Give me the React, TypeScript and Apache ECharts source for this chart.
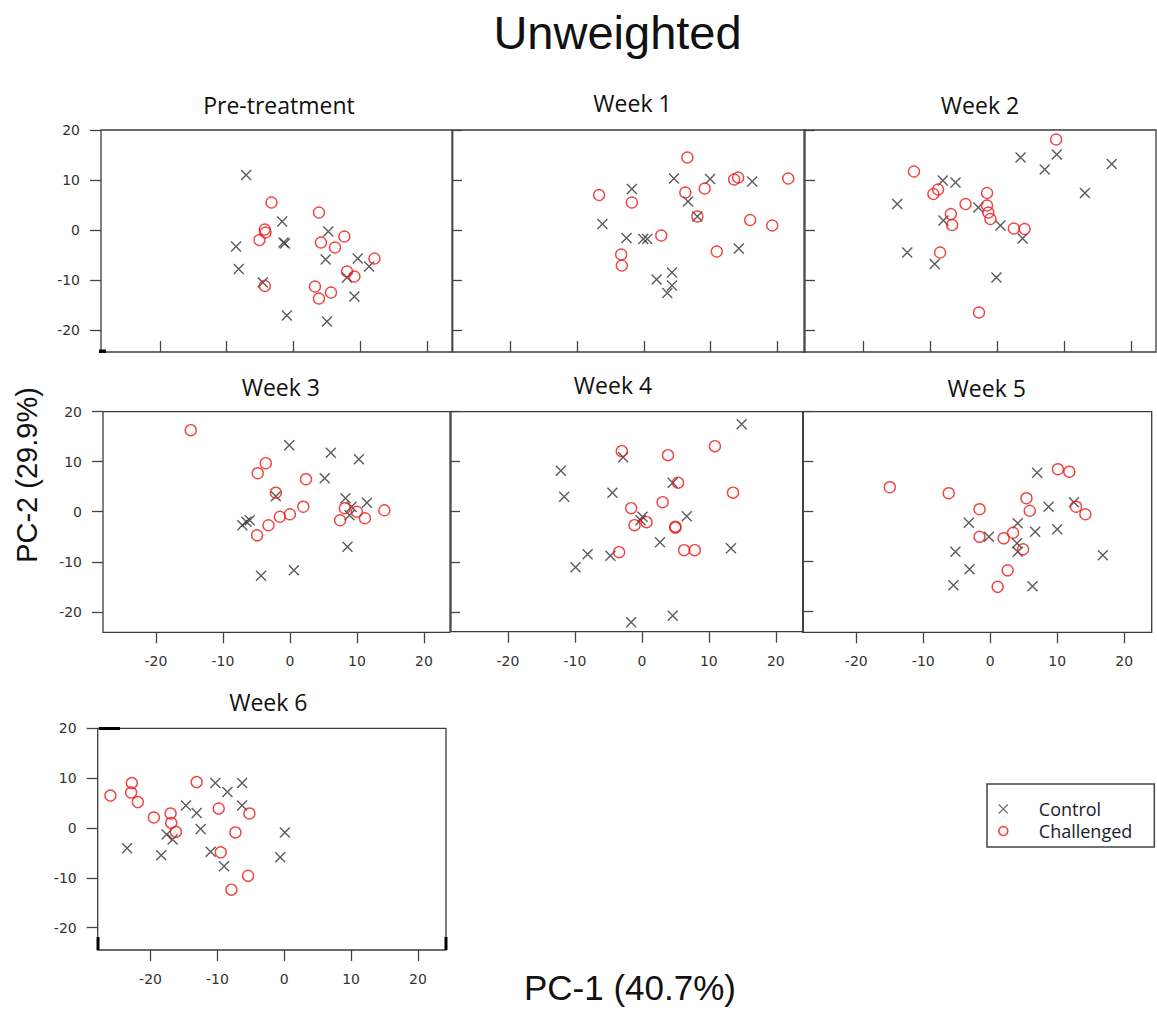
import React, { useEffect, useRef } from 'react';
import * as echarts from 'echarts';

// ---------- data ----------
const mainTitle = 'Unweighted';
const xAxisTitle = 'PC-1 (40.7%)';
const yAxisTitle = 'PC-2 (29.9%)';
const panelTitles = ['Pre-treatment', 'Week 1', 'Week 2', 'Week 3', 'Week 4', 'Week 5', 'Week 6'];
const tickValues = [-20, -10, 0, 10, 20];
const legendLabels = ['Control', 'Challenged'];

const controlPre = [
  [-7.1, 11.0], [-1.7, 1.7], [-1.3, -2.7], [-1.5, -2.5], [-8.6, -3.3], [-8.2, -7.8], [-4.6, -10.5],
  [-1.0, -17.1], [5.2, -0.3], [4.8, -5.9], [9.6, -5.7], [11.3, -7.3], [8.0, -9.5], [9.1, -13.3], [5.0, -18.3],
];
const challengedPre = [
  [-3.3, 5.5], [-4.3, 0.1], [-4.2, -0.5], [-5.1, -2.0], [-4.3, -11.2], [3.8, 3.5], [4.1, -2.5],
  [6.2, -3.5], [7.6, -1.3], [12.1, -5.7], [8.0, -8.3], [9.1, -9.3], [3.2, -11.3], [3.8, -13.7], [5.6, -12.5],
];
const controlW1 = [
  [-1.8, 8.2], [-6.2, 1.2], [-2.6, -1.6], [-0.1, -1.8], [0.5, -1.8], [4.5, 10.3], [9.9, 10.2], [16.2, 9.7],
  [6.6, 5.7], [8.0, 2.7], [14.2, -3.7], [1.9, -9.9], [4.2, -8.5], [4.2, -11.1], [3.5, -12.6],
];
const challengedW1 = [
  [-6.7, 7.0], [-1.8, 5.5], [-3.4, -4.9], [-3.3, -7.1], [2.6, -1.1], [6.5, 14.5], [6.2, 7.5], [9.1, 8.3],
  [8.0, 2.7], [13.5, 10.1], [14.1, 10.5], [21.6, 10.3], [15.9, 2.0], [19.2, 0.9], [10.9, -4.3],
];
const controlW2 = [
  [-14.9, 5.2], [-13.4, -4.5], [-9.3, -6.8], [-8.1, 9.9], [-6.2, 9.5], [-8.0, 1.9], [-2.8, 4.5], [0.5, 0.9],
  [3.8, -1.7], [-0.1, -9.5], [3.5, 14.5], [8.9, 15.1], [7.1, 12.1], [13.1, 7.4], [17.1, 13.2],
];
const challengedW2 = [
  [-12.4, 11.7], [-9.5, 7.2], [-8.8, 8.1], [-8.5, -4.5], [-6.9, 3.2], [-6.7, 1.0], [-4.7, 5.2], [-1.5, 7.4],
  [-1.5, 4.9], [-1.3, 3.5], [-1.0, 2.2], [2.5, 0.3], [4.1, 0.2], [8.8, 18.1], [-2.7, -16.5],
];
const controlW3 = [
  [-0.1, 13.3], [6.1, 11.8], [10.3, 10.5], [5.2, 6.7], [-2.1, 3.1], [-6.5, -2.0], [-7.1, -2.7], [-6.0, -1.7],
  [8.3, 2.7], [9.2, 1.0], [8.9, -0.7], [11.5, 1.8], [8.6, -7.0], [-4.3, -12.8], [0.6, -11.7],
];
const challengedW3 = [
  [-14.8, 16.3], [-3.6, 9.7], [-4.8, 7.7], [2.4, 6.5], [-2.1, 3.8], [-4.9, -4.7], [-3.2, -2.7], [-1.5, -1.0],
  [0.0, -0.5], [2.0, 1.0], [8.2, 0.7], [7.5, -1.7], [10.0, 0.0], [11.2, -1.3], [14.1, 0.3],
];
const controlW4 = [
  [14.9, 17.5], [-12.1, 8.2], [-11.6, 3.0], [-2.8, 10.9], [-4.4, 3.8], [4.6, 5.8], [0.1, -1.0], [-0.2, -1.7],
  [6.7, -0.9], [2.7, -6.1], [13.3, -7.3], [-8.1, -8.5], [-4.7, -8.8], [-9.9, -11.1], [-1.6, -22.1], [4.6, -20.8],
];
const challengedW4 = [
  [-3.0, 12.1], [3.9, 11.3], [10.9, 13.1], [5.4, 5.8], [13.6, 3.8], [3.1, 1.9], [-1.6, 0.7], [-1.1, -2.7],
  [0.7, -2.1], [5.0, -3.0], [5.0, -3.2], [6.3, -7.7], [7.9, -7.7], [-3.4, -8.1],
];
const controlW5 = [
  [7.0, 7.8], [8.7, 1.0], [12.5, 1.9], [10.0, -3.5], [6.7, -4.0], [4.1, -2.3], [4.0, -6.3], [4.1, -8.0],
  [-0.2, -5.0], [-3.2, -2.2], [-5.2, -8.0], [-3.1, -11.5], [-5.5, -14.7], [6.3, -14.9], [16.8, -8.7],
];
const challengedW5 = [
  [-15.0, 4.9], [-6.2, 3.7], [-1.6, 0.5], [-1.6, -5.0], [2.0, -5.3], [3.4, -4.2], [4.9, -7.5], [2.6, -11.7],
  [1.1, -15.0], [5.4, 2.7], [5.9, 0.2], [10.1, 8.5], [11.8, 8.0], [12.8, 1.0], [14.2, -0.5],
];
const controlW6 = [
  [-23.5, -4.1], [-18.4, -5.5], [-17.6, -1.3], [-16.7, -2.3], [-14.7, 4.5], [-13.1, 3.0], [-12.5, -0.2],
  [-10.3, 9.0], [-8.5, 7.2], [-6.3, 9.0], [-6.3, 4.5], [-11.0, -4.8], [-9.0, -7.7], [0.1, -0.9], [-0.6, -5.9],
];
const challengedW6 = [
  [-26.0, 6.5], [-22.8, 9.0], [-22.9, 7.1], [-21.9, 5.2], [-19.5, 2.1], [-17.0, 2.9], [-16.9, 1.0],
  [-16.2, -0.8], [-13.1, 9.2], [-9.8, 3.9], [-5.2, 2.9], [-7.3, -0.9], [-9.5, -4.9], [-5.4, -9.6], [-7.9, -12.4],
];

const controlSets = [controlPre, controlW1, controlW2, controlW3, controlW4, controlW5, controlW6];
const challengedSets = [challengedPre, challengedW1, challengedW2, challengedW3, challengedW4, challengedW5, challengedW6];

// ---------- layout ----------
const layout = [
  { left: 101, top: 130, width: 351, height: 222, xMin: -28.8, xMax: 23.7, yMin: -24.4, tx: 279, ty: 104.5, xLab: false, yLab: true, right: true },
  { left: 452.7, top: 130, width: 352.3, height: 222, xMin: -28.6, xMax: 24.1, yMin: -24.4, tx: 632.5, ty: 103, xLab: false, yLab: false, right: true },
  { left: 804, top: 130, width: 352, height: 222, xMin: -28.8, xMax: 23.7, yMin: -24.4, tx: 980, ty: 104.5, xLab: false, yLab: false, right: false },
  { left: 103, top: 411.7, width: 347, height: 220.6, xMin: -27.9, xMax: 23.9, yMin: -24.1, tx: 280.8, ty: 386.5, xLab: true, yLab: true, right: true },
  { left: 451, top: 411.7, width: 352.3, height: 220, xMin: -28.5, xMax: 24.1, yMin: -24.0, tx: 613, ty: 384.7, xLab: true, yLab: false, right: true },
  { left: 802.7, top: 411.7, width: 349, height: 220.6, xMin: -28.0, xMax: 24.1, yMin: -24.1, tx: 986.7, ty: 388, xLab: true, yLab: false, right: false },
  { left: 97.7, top: 728.3, width: 348.3, height: 221.7, xMin: -27.9, xMax: 24.2, yMin: -24.5, tx: 268.3, ty: 701.7, xLab: true, yLab: true, right: false },
];

const X_PATH = 'path://M0,0L10,10M10,0L0,10';
const CONTROL_COLOR = '#333333';
const CHALLENGED_COLOR = '#ee1515';
const FRAME = '#3c3c3c';
const TICK_FONT = 'DejaVu Sans';

export default function App() {
  const ref = useRef<HTMLDivElement>(null);

  useEffect(() => {
    if (!ref.current) return;
    const chart = echarts.init(ref.current, undefined, { renderer: 'svg' });

    const grids = layout.map((l) => ({
      left: l.left, top: l.top, width: l.width, height: l.height,
      show: true, borderColor: FRAME, borderWidth: 1.3, backgroundColor: 'transparent',
    }));

    const tickLine = { color: '#444', width: 1.3 };

    const xAxes = layout.map((l, i) => ({
      gridIndex: i, type: 'value', min: l.xMin, max: l.xMax, position: 'bottom',
      axisLine: { show: false, onZero: false }, splitLine: { show: false },
      axisTick: { show: true, inside: !l.xLab, length: 11, lineStyle: tickLine, customValues: tickValues },
      axisLabel: { show: l.xLab, customValues: tickValues, margin: 22, color: '#333', fontFamily: TICK_FONT, fontSize: 14 },
    }));

    const yLeft = layout.map((l, i) => ({
      gridIndex: i, type: 'value', min: l.yMin, max: 20, position: 'left',
      axisLine: { show: false, onZero: false }, splitLine: { show: false },
      axisTick: { show: l.yLab, length: 11, lineStyle: tickLine, customValues: tickValues },
      axisLabel: { show: l.yLab, customValues: tickValues, margin: 21, color: '#333', fontFamily: TICK_FONT, fontSize: 14 },
    }));

    const yRight: any[] = [];
    layout.forEach((l, i) => {
      if (!l.right) return;
      yRight.push({
        gridIndex: i, type: 'value', min: l.yMin, max: 20, position: 'right',
        axisLine: { show: false, onZero: false }, splitLine: { show: false },
        axisTick: { show: true, length: 10, lineStyle: tickLine, customValues: tickValues },
        axisLabel: { show: false },
      });
    });

    const series: any[] = [];
    layout.forEach((_, i) => {
      series.push({
        name: legendLabels[0], type: 'scatter', xAxisIndex: i, yAxisIndex: i,
        data: controlSets[i], symbol: X_PATH, symbolSize: 10, silent: true,
        itemStyle: { color: 'transparent', borderColor: CONTROL_COLOR, borderWidth: 1.4 },
      });
      series.push({
        name: legendLabels[1], type: 'scatter', xAxisIndex: i, yAxisIndex: i,
        data: challengedSets[i], symbol: 'circle', symbolSize: 11, silent: true,
        itemStyle: { color: 'transparent', borderColor: CHALLENGED_COLOR, borderWidth: 1.4 },
      });
    });

    const textEl = (text: string, x: number, y: number, font: string, rotation = 0) => ({
      type: 'text', x, y, rotation, silent: true,
      style: { text, font, fill: '#111', align: 'center', verticalAlign: 'middle' },
    });

    const graphics: any[] = [
      textEl(mainTitle, 617.5, 32, '47px "Liberation Sans", Arial, sans-serif'),
      textEl(yAxisTitle, 27, 475, '29px "Liberation Sans", Arial, sans-serif', Math.PI / 2),
      textEl(xAxisTitle, 630, 987, '35px "Liberation Sans", Arial, sans-serif'),
      ...layout.map((l, i) => textEl(panelTitles[i], l.tx, l.ty, '23px "Open Sans", sans-serif')),
      { type: 'rect', shape: { x: 99, y: 349.5, width: 7, height: 3.5 }, style: { fill: '#000' }, silent: true },
      { type: 'rect', shape: { x: 99, y: 727, width: 21, height: 3 }, style: { fill: '#000' }, silent: true },
      { type: 'rect', shape: { x: 96.5, y: 937, width: 3, height: 13 }, style: { fill: '#000' }, silent: true },
      { type: 'rect', shape: { x: 444.5, y: 937, width: 3, height: 13 }, style: { fill: '#000' }, silent: true },
    ];

    chart.setOption({
      animation: false,
      backgroundColor: '#fff',
      grid: grids,
      xAxis: xAxes,
      yAxis: [...yLeft, ...yRight],
      series,
      legend: {
        show: true, orient: 'vertical', left: 987, top: 784,
        padding: [16, 22, 7, 11], itemGap: 4, itemWidth: 9, itemHeight: 9,
        borderColor: '#444', borderWidth: 1.5, backgroundColor: '#fff',
        selectedMode: false,
        textStyle: { fontFamily: 'Open Sans', fontSize: 18, lineHeight: 18, color: '#1b1b2b', padding: [0, 0, 0, 26] },
        data: [
          { name: legendLabels[0], icon: X_PATH, itemStyle: { color: 'transparent', borderColor: '#555', borderWidth: 1.3 } },
          { name: legendLabels[1], icon: 'circle', itemStyle: { color: 'transparent', borderColor: CHALLENGED_COLOR, borderWidth: 1.6 } },
        ],
      },
      graphic: graphics,
    });

    return () => chart.dispose();
  }, []);

  return <div ref={ref} style={{ position: 'absolute', left: 0, top: 0, width: 1157, height: 1015 }} />;
}
